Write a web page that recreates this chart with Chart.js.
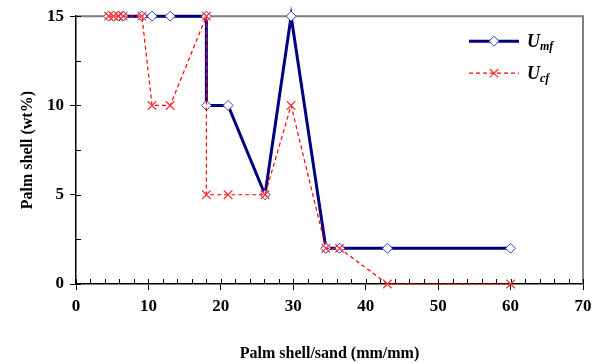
<!DOCTYPE html>
<html>
<head>
<meta charset="utf-8">
<script src="https://cdn.jsdelivr.net/npm/chart.js@4.4.1/dist/chart.umd.min.js"></script>
<style>
    html, body { margin: 0; padding: 0; background: #fff; }
    #wrap { width: 602px; height: 363px; }
</style>
</head>
<body>
<div id="wrap"><canvas id="grafico"></canvas></div>
<script>
// Data
const razonPalmaArena = [4.5, 5.2, 5.9, 6.5, 9.1, 10.5, 13.0, 18.0, 18.0, 21.0, 26.1, 29.7, 34.5, 36.4, 43.0, 60.0];
const valoresUmf = [15, 15, 15, 15, 15, 15, 15, 15, 10, 10, 5, 15, 2, 2, 2, 2];
const valoresUcf = [15, 15, 15, 15, 15, 10, 10, 15, 5, 5, 5, 10, 2, 2, 0, 0];
const ticksX = [0, 10, 20, 30, 40, 50, 60, 70];
const ticksY = [0, 5, 10, 15];
const minorX = 2;
const minorY = 2.5;

const FUENTE = "'Liberation Serif', 'Times New Roman', serif";

function toPoints(xs, ys) {
    return xs.map((x, i) => ({ x: x, y: ys[i] }));
}

// frame (top/right) and small inner ticks
const marcoPlugin = {
    id: 'marco',
    beforeDatasetsDraw(chart) {
        const { ctx, chartArea: a, scales: { x, y } } = chart;
        ctx.save();
        ctx.strokeStyle = '#7f7f7f';
        ctx.lineWidth = 2;
        ctx.beginPath();
        ctx.moveTo(a.left, a.top);
        ctx.lineTo(a.right, a.top);
        ctx.lineTo(a.right, a.bottom);
        ctx.stroke();

        ctx.strokeStyle = '#000';
        ctx.lineWidth = 1;
        ctx.beginPath();
        for (let v = x.min; v <= x.max + 0.001; v += minorX) {
            const px = Math.round(x.getPixelForValue(v)) + 0.5;
            ctx.moveTo(px, a.bottom);
            ctx.lineTo(px, a.bottom - 5);
        }
        for (let v = y.min; v <= y.max + 0.001; v += minorY) {
            const py = Math.round(y.getPixelForValue(v)) + 0.5;
            ctx.moveTo(a.left, py);
            ctx.lineTo(a.left + 5, py);
        }
        ctx.stroke();
        ctx.restore();
    }
};

// legend with subscripts, drawn inside the plot area
const leyendaPlugin = {
    id: 'leyenda',
    afterDraw(chart) {
        const { ctx, chartArea: a } = chart;
        const x0 = a.right - 114;
        const filas = [
            { ds: chart.data.datasets[0], sub: 'mf', y: a.top + 25 },
            { ds: chart.data.datasets[1], sub: 'cf', y: a.top + 57 }
        ];
        ctx.save();
        filas.forEach(f => {
            const r = f.ds.pointRadius;
            const cx = x0 + 25;
            ctx.strokeStyle = f.ds.borderColor;
            ctx.lineWidth = f.ds.borderWidth;
            ctx.setLineDash(f.ds.borderDash || []);
            ctx.beginPath();
            ctx.moveTo(x0, f.y);
            ctx.lineTo(x0 + 50, f.y);
            ctx.stroke();
            ctx.setLineDash([]);
            ctx.fillStyle = f.ds.pointBackgroundColor;
            ctx.strokeStyle = f.ds.pointBorderColor;
            ctx.lineWidth = f.ds.pointBorderWidth;
            ctx.beginPath();
            if (f.ds.pointStyle === 'rectRot') {
                ctx.moveTo(cx, f.y - r);
                ctx.lineTo(cx + r, f.y);
                ctx.lineTo(cx, f.y + r);
                ctx.lineTo(cx - r, f.y);
                ctx.closePath();
                ctx.fill();
                ctx.stroke();
            } else {
                ctx.moveTo(cx - r * 0.7, f.y - r * 0.7);
                ctx.lineTo(cx + r * 0.7, f.y + r * 0.7);
                ctx.moveTo(cx + r * 0.7, f.y - r * 0.7);
                ctx.lineTo(cx - r * 0.7, f.y + r * 0.7);
                ctx.stroke();
            }
            ctx.fillStyle = '#000';
            ctx.textBaseline = 'alphabetic';
            ctx.font = 'italic bold 18px ' + FUENTE;
            ctx.fillText('U', x0 + 58, f.y + 6);
            const w = ctx.measureText('U').width;
            ctx.font = 'italic bold 12px ' + FUENTE;
            ctx.fillText(f.sub, x0 + 58 + w, f.y + 9);
        });
        ctx.restore();
    }
};

function initializeGrafico() {
    const ctx = document.getElementById('grafico');

    new Chart(ctx, {
        type: 'scatter',
        data: {
            datasets: [{
                label: 'Umf',
                data: toPoints(razonPalmaArena, valoresUmf),
                showLine: true,
                borderColor: '#000080',
                borderWidth: 3,
                pointStyle: 'rectRot',
                pointRadius: 5,
                pointHoverRadius: 5,
                pointBorderColor: '#3c3cb4',
                pointBorderWidth: 1,
                pointBackgroundColor: '#ffffff',
                order: 2
            }, {
                label: 'Ucf',
                data: toPoints(razonPalmaArena, valoresUcf),
                showLine: true,
                borderColor: '#ff0000',
                borderWidth: 1.2,
                borderDash: [4, 3],
                pointStyle: 'crossRot',
                pointRadius: 6,
                pointHoverRadius: 6,
                pointBorderColor: '#ff3030',
                pointBorderWidth: 1.2,
                pointBackgroundColor: '#ff0000',
                order: 1
            }]
        },
        options: {
            responsive: true,
            maintainAspectRatio: false,
            animation: false,
            clip: false,
            layout: { padding: { top: 15, right: 19, left: 0, bottom: 0 } },
            plugins: {
                legend: { display: false },
                tooltip: { enabled: false }
            },
            scales: {
                x: {
                    type: 'linear',
                    min: 0,
                    max: 70,
                    afterBuildTicks: s => { s.ticks = ticksX.map(v => ({ value: v })); },
                    afterFit: s => { s.height = 79; },
                    border: { color: '#000', width: 1.5 },
                    grid: { display: true, drawOnChartArea: false, tickLength: 6, color: '#000' },
                    ticks: {
                        color: '#000',
                        padding: 6,
                        font: { family: FUENTE, size: 17, weight: 'bold' }
                    },
                    title: {
                        display: true,
                        text: 'Palm shell/sand (mm/mm)',
                        color: '#000',
                        padding: { top: 4, bottom: 0 },
                        font: { family: FUENTE, size: 16, weight: 'bold' }
                    }
                },
                y: {
                    type: 'linear',
                    min: 0,
                    max: 15,
                    afterBuildTicks: s => { s.ticks = ticksY.map(v => ({ value: v })); },
                    afterFit: s => { s.width = 76; },
                    border: { color: '#000', width: 1.5 },
                    grid: { display: true, drawOnChartArea: false, tickLength: 6, color: '#000' },
                    ticks: {
                        color: '#000',
                        padding: 6,
                        font: { family: FUENTE, size: 17, weight: 'bold' }
                    },
                    title: {
                        display: true,
                        text: 'Palm shell (wt%)',
                        color: '#000',
                        padding: { top: 18, bottom: 4 },
                        font: { family: FUENTE, size: 16, weight: 'bold' }
                    }
                }
            }
        },
        plugins: [marcoPlugin, leyendaPlugin]
    });
}

document.addEventListener('DOMContentLoaded', function() {
    initializeGrafico();
});
</script>
</body>
</html>
